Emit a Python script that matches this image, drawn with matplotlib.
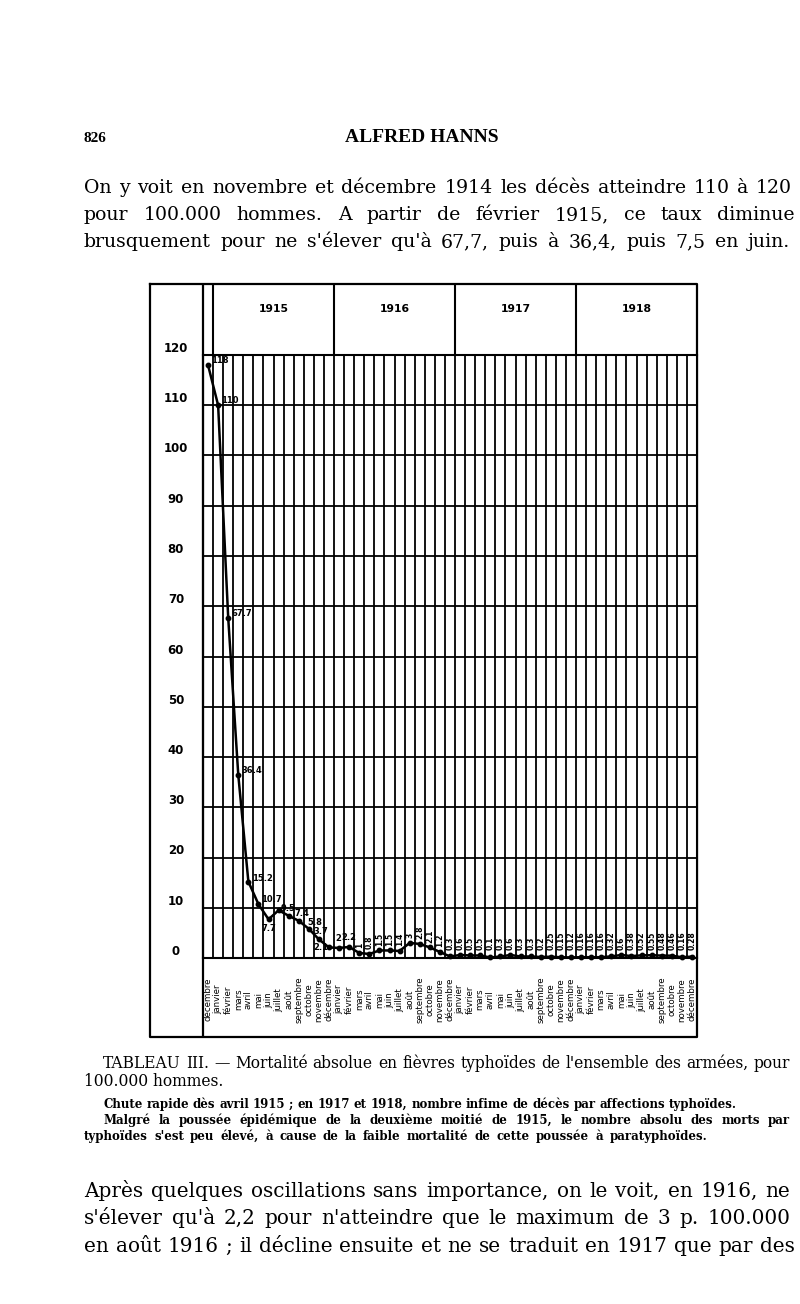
import matplotlib
matplotlib.use('Agg')
import matplotlib.pyplot as plt

# ---------------- data ----------------
year_names = ['janvier', 'février', 'mars', 'avril', 'mai', 'juin', 'juillet',
              'août', 'septembre', 'octobre', 'novembre', 'décembre']
months = ['décembre'] + year_names + year_names + year_names + year_names
years = ['1915', '1916', '1917', '1918']
year_centers = [6.5, 18.5, 30.5, 42.5]

values = [118, 110, 67.7, 36.4, 15.2, 10.7, 7.7, 9.5, 8.4, 7.4, 5.8, 3.7, 2.1,
          2.0, 2.2, 1.0, 0.8, 1.5, 1.5, 1.4, 3.0, 2.8, 2.1, 1.2,
          0.3, 0.6, 0.5, 0.5, 0.1, 0.3, 0.6, 0.3, 0.3, 0.2, 0.25, 0.15,
          0.12, 0.16, 0.16, 0.16, 0.32, 0.6, 0.38, 0.52, 0.55, 0.48, 0.46, 0.16, 0.28]
value_labels = ['118', '110', '67.7', '36.4', '15.2', '10.7', '7.7', '9.5', '', '7.4',
                '5.8', '3.7', '2.1', '2', '2.2', '1', '0.8', '1.5', '1.5', '1.4', '3',
                '2.8', '2.1', '1.2', '0.3', '0.6', '0.5', '0.5', '0.1', '0.3', '0.6',
                '0.3', '0.3', '0.2', '0.25', '0.15', '0.12', '0.16', '0.16', '0.16',
                '0.32', '0.6', '0.38', '0.52', '0.55', '0.48', '0.46', '0.16', '0.28']
y_ticks = [0, 10, 20, 30, 40, 50, 60, 70, 80, 90, 100, 110, 120]

# label placement for the horizontal labels: (ha, va, dx px, dy px)
horiz_place = {0: ('left', 'bottom', 3, 0), 1: ('left', 'bottom', 3, 0),
               2: ('left', 'bottom', 3, 0), 3: ('left', 'bottom', 3, 0),
               4: ('left', 'bottom', 4, -1), 5: ('left', 'bottom', 3, 0),
               6: ('center', 'top', 0, -5), 7: ('left', 'center', 2, 2),
               9: ('center', 'bottom', 3, 3), 10: ('left', 'bottom', -1, 2),
               11: ('center', 'bottom', 2, 3), 12: ('right', 'center', -1, 0),
               13: ('center', 'bottom', -1, 5), 14: ('center', 'bottom', 0, 5)}

# ---------------- figure ----------------
W, H = 800, 1304
fig = plt.figure(figsize=(W / 100, H / 100), dpi=100)
fig.patch.set_facecolor('white')
renderer = fig.canvas.get_renderer()


def fx(x):
    return x / W


def fy(y):
    return 1 - y / H


SERIF = 'DejaVu Serif'


def line(text, x0, y, x1=None, **kw):
    kw.setdefault('family', SERIF)
    kw.setdefault('color', 'black')
    if x1 is None:
        fig.text(fx(x0), fy(y), text, ha='left', va='baseline', **kw)
        return
    words = text.split(' ')
    objs = [fig.text(0, fy(y), w, ha='left', va='baseline', **kw) for w in words]
    widths = [o.get_window_extent(renderer).width for o in objs]
    gap = (x1 - x0 - sum(widths)) / max(len(words) - 1, 1)
    x = x0
    for o, w in zip(objs, widths):
        o.set_x(fx(x))
        x += w + gap


# header
fig.text(fx(84), fy(142), '826', family='Liberation Serif', fontsize=11,
         fontweight='bold', ha='left', va='baseline')
fig.text(fx(422), fy(142), 'ALFRED HANNS', family='Liberation Serif', fontsize=14,
         fontweight='bold', ha='center', va='baseline')

# top paragraph
ps = 13.6
line('On y voit en novembre et décembre 1914 les décès atteindre 110 à 120', 84, 193, 792, fontsize=ps)
line('pour 100.000 hommes. A partir de février 1915, ce taux diminue', 84, 220, 795, fontsize=ps)
line("brusquement pour ne s'élever qu'à 67,7, puis à 36,4, puis 7,5 en juin.", 84, 247, 790, fontsize=ps)

# caption
line("TABLEAU III. — Mortalité absolue en fièvres typhoïdes de l'ensemble des armées, pour",
     103, 1068, 790, fontsize=11.2)
line('100.000 hommes.', 84, 1086, fontsize=11.2)
cs = 8.5
line('Chute rapide dès avril 1915 ; en 1917 et 1918, nombre infime de décès par affections typhoïdes.',
     103, 1108, 737, fontsize=cs, fontweight='bold')
line('Malgré la poussée épidémique de la deuxième moitié de 1915, le nombre absolu des morts par',
     103, 1124, 790, fontsize=cs, fontweight='bold')
line("typhoïdes s'est peu élevé, à cause de la faible mortalité de cette poussée à paratyphoïdes.",
     84, 1140, 707, fontsize=cs, fontweight='bold')

# bottom paragraph
bs = 14.4
line('Après quelques oscillations sans importance, on le voit, en 1916, ne', 84, 1197, 790, fontsize=bs)
line("s'élever qu'à 2,2 pour n'atteindre que le maximum de 3 p. 100.000", 84, 1224, 790, fontsize=bs)
line("en août 1916 ; il décline ensuite et ne se traduit en 1917 que par des", 84, 1252, 795, fontsize=bs)

# ---------------- chart ----------------
ax = fig.add_axes([fx(203), fy(958), 494 / W, 603 / H])
ax.set_xlim(-0.5, 48.5)
ax.set_ylim(0, 120)
x = list(range(len(values)))
ax.plot(x, values, color='black', lw=1.8, marker='o', ms=3.2, zorder=5, clip_on=False)

ax.tick_params(which='both', length=0)
ax.tick_params(axis='y', pad=19.5)
ax.tick_params(axis='x', pad=30)
ax.set_yticks(y_ticks, labels=[str(v) for v in y_ticks], fontsize=8.5,
              fontweight='bold', ha='center', va='bottom', family='DejaVu Sans')
ax.set_xticks(x, labels=months, rotation=90, fontsize=6.2, va='center', ha='center',
              family='DejaVu Sans')
ax.set_xticks([k + 0.5 for k in range(len(values) - 1)], minor=True)
ax.grid(which='minor', axis='x', color='black', lw=1.3)
ax.grid(which='major', axis='y', color='black', lw=1.3)
ax.set_axisbelow(True)
for s in ax.spines.values():
    s.set_linewidth(1.5)

# year header
xt = ax.get_xaxis_transform()
ax.vlines([0.5, 12.5, 24.5, 36.5], 1.0, 1.1177, transform=xt, colors='black',
          lw=1.5, clip_on=False)
ax.vlines([-0.5], -0.131, 1.1177, transform=xt, colors='black', lw=1.6, clip_on=False)
for yr, c in zip(years, year_centers):
    ax.text(c, 1.076, yr, transform=xt, ha='center', va='center', fontsize=7.8,
            fontweight='bold', family='DejaVu Sans')

# value labels
for i, (v, t) in enumerate(zip(values, value_labels)):
    if not t:
        continue
    if i in horiz_place:
        ha, va, dx, dy = horiz_place[i]
        ax.annotate(t, (i, v), xytext=(dx * 0.72, dy * 0.72), textcoords='offset points',
                    ha=ha, va=va, fontsize=6, fontweight='bold', family='DejaVu Sans',
                    zorder=6)
    else:
        ax.text(i, max(v + 0.9, 1.6), t, rotation=90, ha='center', va='bottom',
                fontsize=5.5, fontweight='bold', family='DejaVu Sans', zorder=6)

# outer frame
ov = fig.add_axes([0, 0, 1, 1], zorder=-1)
ov.set_xlim(0, W)
ov.set_ylim(H, 0)
ov.axis('off')
ov.plot([150, 697, 697, 150, 150], [284, 284, 1037, 1037, 284], color='black', lw=1.6)

fig.savefig('out.png', dpi=100)
